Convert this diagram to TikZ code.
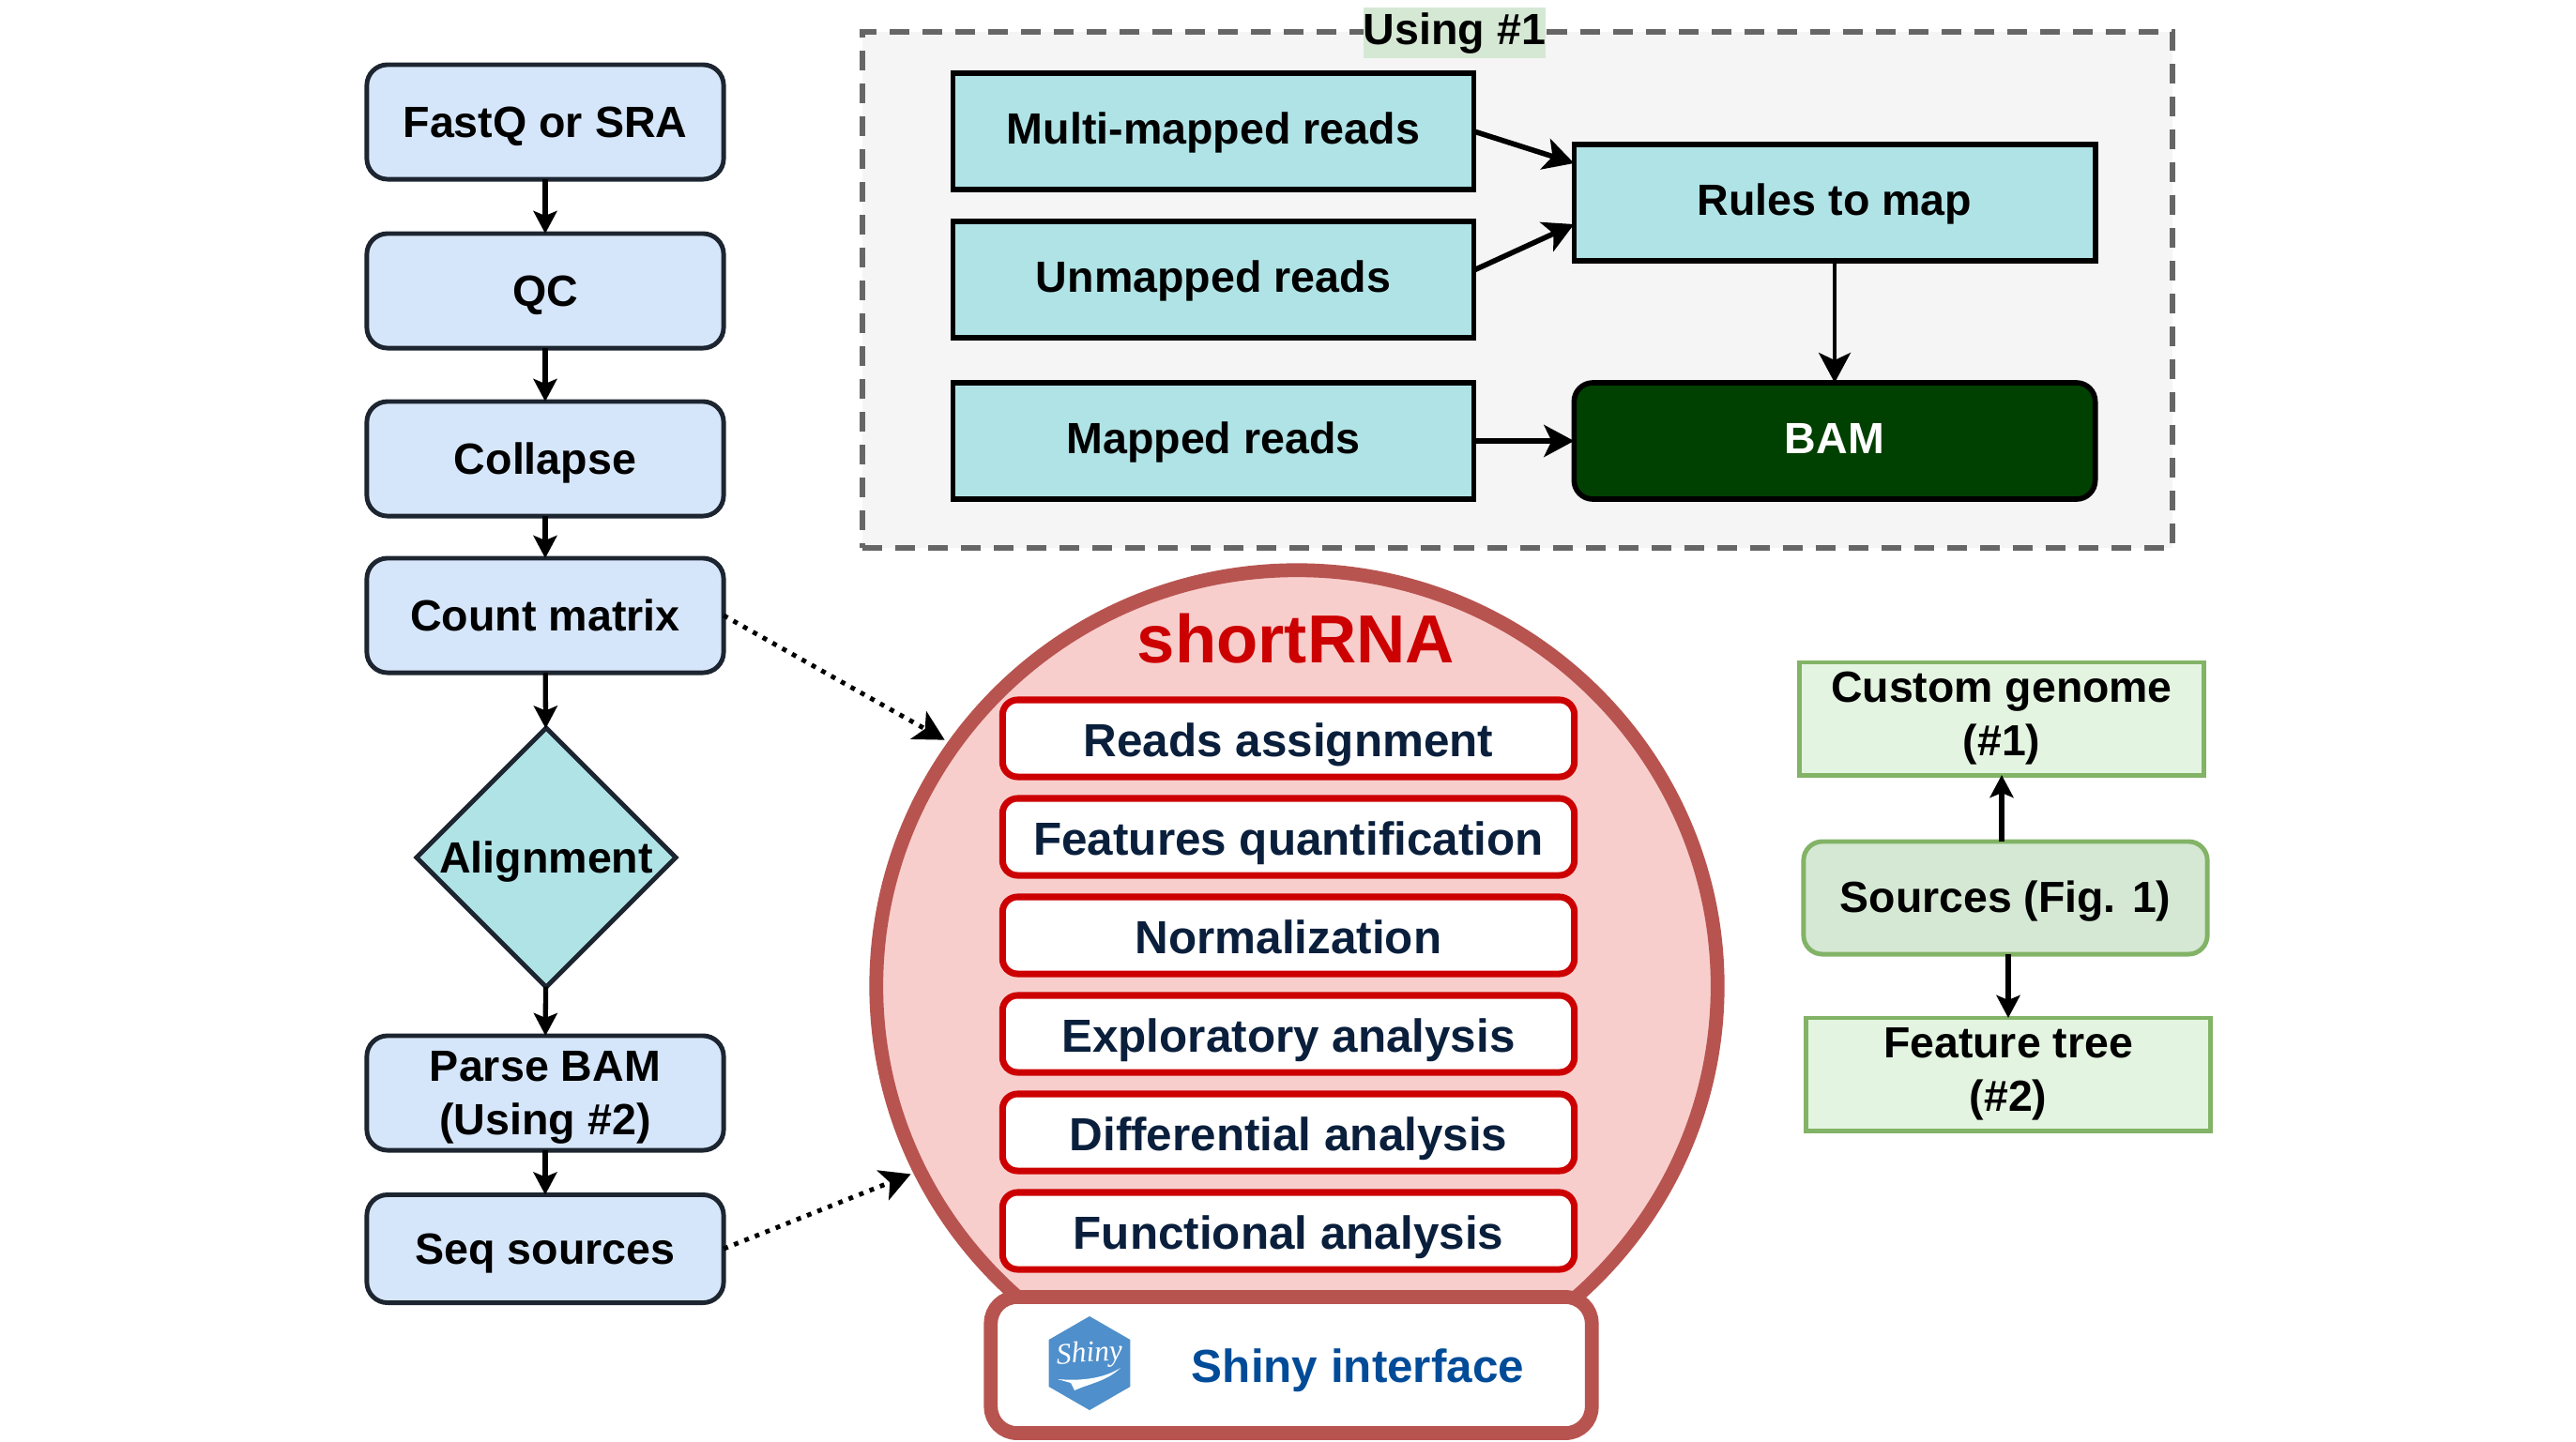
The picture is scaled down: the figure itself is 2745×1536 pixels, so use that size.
\documentclass[tikz,border=0pt]{standalone}
\usepackage{fontspec}
\setmainfont{Liberation Sans}
\newfontfamily\shinyfont{Liberation Serif}
\usepackage{tikz}
\usetikzlibrary{positioning,calc,arrows.meta,shapes.geometric}
\definecolor{stepblue}{HTML}{D6E6FA}
\definecolor{stepline}{HTML}{1C2530}
\definecolor{readteal}{HTML}{B0E3E6}
\definecolor{bamgreen}{HTML}{004000}
\definecolor{usinggray}{HTML}{F5F5F5}
\definecolor{usingline}{HTML}{666666}
\definecolor{usinglabel}{HTML}{D5E8D4}
\definecolor{rnafill}{HTML}{F8CECC}
\definecolor{rnaline}{HTML}{B85450}
\definecolor{moduleline}{HTML}{CC0000}
\definecolor{moduletext}{HTML}{0A1F3C}
\definecolor{shinyblue}{HTML}{004C99}
\definecolor{hexblue}{HTML}{4F8FCB}
\definecolor{srcline}{HTML}{82B366}
\definecolor{srcfill}{HTML}{E3F4E0}
\tikzset{
	txt/.style={font=\fontsize{13.25}{16}\selectfont\bfseries,align=center,inner sep=0pt,outer sep=0pt,text height=0.4cm,text depth=0.08cm},
	twolines/.style={text height=,text depth=},
	stepbox/.style={txt,shape=rectangle,rounded corners=0.22cm,draw=stepline,fill=stepblue,line width=1.4pt,minimum width=3.8cm,minimum height=1.22cm},
	readbox/.style={txt,shape=rectangle,draw=black,fill=readteal,line width=1.6pt,minimum width=5.55cm,minimum height=1.24cm,text height=0.34cm},
	modulebox/.style={txt,shape=rectangle,rounded corners=0.16cm,draw=moduleline,fill=white,line width=2pt,minimum width=6.09cm,minimum height=0.82cm,text=moduletext,font=\fontsize{14.05}{18}\selectfont\bfseries,text height=0.46cm},
	srcbox/.style={txt,shape=rectangle,draw=srcline,fill=srcfill,line width=1.4pt,minimum width=4.3cm,minimum height=1.2cm,font=\fontsize{13.2}{16.2}\selectfont\bfseries,text height=0.38cm},
	flow/.style={-{Stealth[length=0.24cm,width=0.25cm,inset=0.05cm]},draw=black,line width=1.5pt},
	bigflow/.style={-{Stealth[length=0.32cm,width=0.34cm,inset=0.08cm]},draw=black,line width=1.6pt},
	hintflow/.style={-{Stealth[length=0.32cm,width=0.34cm,inset=0.08cm]},draw=black,line width=1.4pt,dotted}
}

\begin{document}
\begin{tikzpicture}[x=0.01cm,y=-0.01cm]
	\useasboundingbox (0,0) rectangle (2745,1536);

	\node[shape=rectangle,draw=usingline,fill=usinggray,dash pattern=on 0.21cm off 0.14cm,line width=1.6pt,minimum width=13.95cm,minimum height=5.5cm,inner sep=0pt] (usingarea) at (1617,309) {};
	\node[txt,fill=usinglabel,minimum width=1.94cm,minimum height=0.53cm,text height=0.32cm] (usinglabel) at (1550,35) {Using \#1};

	\node[stepbox] (fastq) at (581,130) {FastQ or SRA};
	\node[stepbox] (qc) at (581,310) {QC};
	\node[stepbox] (collapse) at (581,489) {Collapse};
	\node[stepbox] (count) at (581,656) {Count matrix};
	\node[txt,shape=diamond,draw=stepline,fill=readteal,line width=1.4pt,minimum width=2.76cm,minimum height=2.76cm] (alignment) at (582,914) {Alignment};
	\node[stepbox,twolines,text depth=0cm] (parse) at (581,1165) {Parse BAM\\(Using \#2)};
	\node[stepbox,minimum height=1.15cm] (seqsrc) at (581,1331) {Seq sources};

	\node[readbox] (multi) at (1293,140) {Multi-mapped reads};
	\node[readbox] (unmapped) at (1293,298) {Unmapped reads};
	\node[readbox] (mapped) at (1293,470) {Mapped reads};
	\node[readbox] (rules) at (1955,216) {Rules to map};
	\node[readbox,rounded corners=0.2cm,fill=bamgreen,text=white] (bam) at (1955,470) {BAM};

	\node[shape=ellipse,draw=rnaline,fill=rnafill,line width=4.2pt,minimum width=8.96cm,minimum height=8.86cm,inner sep=0pt] (rna) at (1382,1051) {};
	\node[font=\fontsize{20.6}{24}\selectfont\bfseries,text=moduleline,inner sep=0pt] (title) at (1381,681) {shortRNA};
	\node[modulebox] (reads) at (1373,787) {Reads assignment};
	\node[modulebox] (features) at (1373,892) {Features quantification};
	\node[modulebox] (norm) at (1373,997) {Normalization};
	\node[modulebox] (explore) at (1373,1102) {Exploratory analysis};
	\node[modulebox] (diff) at (1373,1207) {Differential analysis};
	\node[modulebox] (func) at (1373,1312) {Functional analysis};

	\node[shape=rectangle,rounded corners=0.28cm,draw=rnaline,fill=white,line width=4.2pt,minimum width=6.4cm,minimum height=1.45cm,inner sep=0pt] (shinybox) at (1376,1455) {};
	\node[shape=regular polygon,regular polygon sides=6,shape border rotate=30,fill=hexblue,minimum size=1cm,inner sep=0pt] (shinylogo) at (1161,1453) {};
	\node[font=\fontsize{9}{10}\selectfont\shinyfont\itshape,text=white,rotate=4,inner sep=0pt] (shinyword) at (1161,1444) {Shiny};
	\fill[white] (1127,1470) .. controls (1150,1472) and (1175,1470) .. (1194,1458) .. controls (1180,1472) and (1160,1475) .. (1145,1482) -- (1141,1474) -- cycle;
	\node[font=\fontsize{14.05}{18}\selectfont\bfseries,text=shinyblue,inner sep=0pt] (shinytxt) at (1447,1461) {Shiny interface};

	\node[srcbox,twolines] (custom) at (2133,766) {Custom genome\\(\#1)};
	\node[srcbox,rounded corners=0.2cm,fill=usinglabel] (sources) at (2137,957) {Sources (Fig. 1)};
	\node[srcbox,twolines] (feature) at (2140,1145) {Feature tree\\(\#2)};

	\draw[flow] (fastq) -- (qc);
	\draw[flow] (qc) -- (collapse);
	\draw[flow] (collapse) -- (count);
	\draw[flow] (count) -- (alignment);
	\draw[flow] (alignment) -- (parse);
	\draw[flow] (parse) -- (seqsrc);

	\draw[bigflow] (multi.east) -- ([yshift=0.42cm]rules.west);
	\draw[bigflow] ([yshift=0.1cm]unmapped.east) -- ([yshift=-0.23cm]rules.west);
	\draw[bigflow] (mapped) -- (bam);
	\draw[bigflow,line width=1.1pt] (rules) -- (bam);

	\draw[hintflow,shorten >=0.04cm] (count.east) -- (rna.145);
	\draw[hintflow,shorten >=0.03cm] (seqsrc.east) -- (rna.206);

	\draw[flow] (sources.north -| custom) -- (custom);
	\draw[flow] (sources.south -| feature) -- (feature);
\end{tikzpicture}
\end{document}
